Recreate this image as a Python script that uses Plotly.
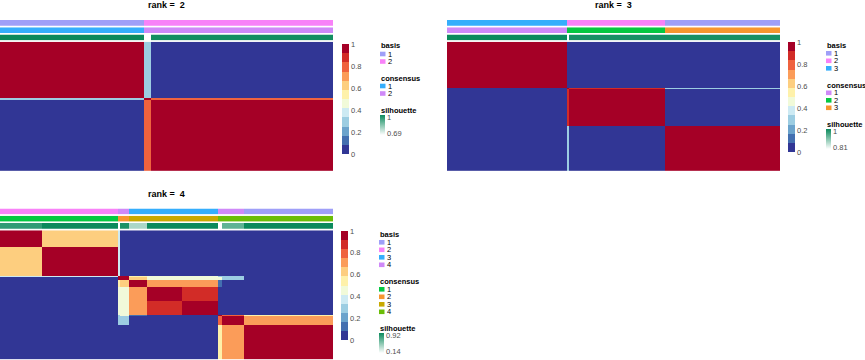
import numpy as np
import plotly.graph_objects as go

W, H = 865, 360

# ---------------- palettes ----------------
HEAT_COLORS = ["#313695", "#436fb0", "#6ba3cc", "#9ccde2", "#cdeaf3", "#f1fad9",
               "#fef1aa", "#fdce7f", "#fb9c59", "#ef623e", "#d22c27", "#a50026"]
SIL_LOW, SIL_HIGH = "#ffffff", "#0b8a5c"
BASIS_COLORS = ["#9f9ff8", "#f882f8", "#35aefc", "#cf89f8"]

# ---------------- data: rank 2 ----------------
r2_sizes = [65, 3, 82]
r2_basis = [1, 2, 2]
r2_cons = [1, 2, 2]
r2_sil = [1.0, 0.69, 0.99]
r2_block = [[1.00, 0.25, 0.00],
            [0.25, 1.00, 0.78],
            [0.00, 0.78, 1.00]]
r2_cons_colors = ["#35aefc", "#cf89f8"]
r2_sil_labels = ["1", "0.69"]

# ---------------- data: rank 3 ----------------
r3_sizes = [54, 1, 43, 52]
r3_basis = [3, 2, 2, 1]
r3_cons = [1, 2, 2, 3]
r3_sil = [1.0, 0.81, 0.99, 0.99]
r3_block = [[1.00, 0.00, 0.00, 0.00],
            [0.00, 1.00, 0.86, 0.28],
            [0.00, 0.86, 1.00, 0.00],
            [0.00, 0.28, 0.00, 1.00]]
r3_cons_colors = ["#cf89f8", "#05c841", "#f7962f"]
r3_sil_labels = ["1", "0.81"]

# ---------------- data: rank 4 ----------------
r4_sizes = [19, 34, 1, 4, 8, 16, 16, 2, 10, 40]
r4_basis = [2, 2, 4, 4, 3, 3, 3, 4, 4, 1]
r4_cons = [1, 1, 2, 2, 3, 3, 3, 4, 4, 4]
r4_sil = [0.80, 0.92, 0.14, 0.87, 0.41, 0.92, 0.92, 0.14, 0.65, 0.92]
r4_block = [
    # G1a  G1b   s1    G2    G3a   G3b1  G3b2  s8    G4a   G4b
    [1.00, 0.62, 0.35, 0.00, 0.00, 0.00, 0.00, 0.00, 0.00, 0.00],
    [0.62, 1.00, 0.35, 0.00, 0.00, 0.00, 0.00, 0.00, 0.00, 0.00],
    [0.35, 0.35, 1.00, 0.92, 0.55, 0.48, 0.48, 0.30, 0.30, 0.05],
    [0.00, 0.00, 0.92, 1.00, 0.62, 0.48, 0.45, 0.45, 0.30, 0.02],
    [0.00, 0.00, 0.55, 0.62, 1.00, 0.72, 0.72, 0.10, 0.00, 0.00],
    [0.00, 0.00, 0.48, 0.48, 0.72, 1.00, 0.86, 0.00, 0.00, 0.00],
    [0.00, 0.00, 0.48, 0.45, 0.72, 0.86, 1.00, 0.00, 0.00, 0.00],
    [0.00, 0.00, 0.30, 0.45, 0.10, 0.00, 0.00, 1.00, 0.80, 0.50],
    [0.00, 0.00, 0.30, 0.30, 0.00, 0.00, 0.00, 0.80, 1.00, 0.70],
    [0.00, 0.00, 0.05, 0.02, 0.00, 0.00, 0.00, 0.50, 0.70, 1.00],
]
r4_cons_colors = ["#05c841", "#f7962f", "#c9a900", "#6abd06"]
r4_sil_labels = ["0.92", "0.14"]

cb_ticks = [0, 0.2, 0.4, 0.6, 0.8, 1]
cb_ticktext = ["0", "0.2", "0.4", "0.6", "0.8", "1"]

FONT = "Liberation Sans, Arial, Helvetica, sans-serif"
LEG_FS = 7.5


def discrete_scale(colors):
    n = len(colors)
    sc = []
    for i, c in enumerate(colors):
        sc.append([i / n, c])
        sc.append([(i + 1) / n, c])
    return sc


def px_x(x):
    return x / W


def px_y(y):
    return 1 - y / H


layout = dict(width=W, height=H, margin=dict(l=0, r=0, t=0, b=0, autoexpand=False),
              paper_bgcolor="white", plot_bgcolor="white",
              font=dict(family=FONT, size=LEG_FS, color="#000"),
              showlegend=False)
shapes = []
annotations = []
traces = []
axis_count = [0]


def new_axes(x0, x1, y0, y1, n, nrows):
    axis_count[0] += 1
    i = axis_count[0]
    sfx = "" if i == 1 else str(i)
    layout["xaxis" + sfx] = dict(domain=[px_x(x0), px_x(x1)], range=[-0.5, n - 0.5],
                                 visible=False, fixedrange=True, anchor="y" + sfx)
    layout["yaxis" + sfx] = dict(domain=[px_y(y1), px_y(y0)], range=[nrows - 0.5, -0.5],
                                 visible=False, fixedrange=True, anchor="x" + sfx)
    return "x" + sfx, "y" + sfx


def text_ann(x, y, text, size=LEG_FS, anchor="left", color="#000"):
    annotations.append(dict(x=px_x(x), y=px_y(y), text=text, showarrow=False,
                            xref="paper", yref="paper", xanchor=anchor, yanchor="middle",
                            borderpad=0, font=dict(size=size, color=color)))


def key(x, y, color):
    shapes.append(dict(type="rect", xref="paper", yref="paper",
                       x0=px_x(x), x1=px_x(x + 5.5), y0=px_y(y + 2.3), y1=px_y(y - 2.3),
                       fillcolor=color, line=dict(width=0)))


def panel(title, sizes, basis, cons, sil, block, cons_colors, sil_labels,
          hx0, hx1, top, cb, leg):
    idx = np.repeat(np.arange(len(sizes)), sizes)
    n = len(idx)
    M = np.array(block)
    Z = M[np.ix_(idx, idx)]
    bas = np.array(basis)[idx]
    con = np.array(cons)[idx]
    sl = np.array(sil)[idx]
    yb = (top, top + 5.7)
    yc = (top + 7.3, top + 13.0)
    ys = (top + 14.5, top + 20.2)
    yh = (top + 21.8, top + 151.0)

    nb = len(BASIS_COLORS)
    xa, ya = new_axes(hx0, hx1, yb[0], yb[1], n, 1)
    traces.append(go.Heatmap(z=[bas.tolist()], xaxis=xa, yaxis=ya,
                             colorscale=discrete_scale(BASIS_COLORS), zmin=0.5, zmax=nb + 0.5,
                             showscale=False, hoverinfo="skip"))
    nc = len(cons_colors)
    xa, ya = new_axes(hx0, hx1, yc[0], yc[1], n, 1)
    traces.append(go.Heatmap(z=[con.tolist()], xaxis=xa, yaxis=ya,
                             colorscale=discrete_scale(cons_colors), zmin=0.5, zmax=nc + 0.5,
                             showscale=False, hoverinfo="skip"))

    smin, smax = float(min(sil)), float(max(sil))
    lx, ly = leg
    nkeys_b = max(basis)
    y = ly
    text_ann(lx - 0.5, y, "<b>basis</b>")
    y += 8.3
    for k in range(nkeys_b):
        key(lx, y, BASIS_COLORS[k])
        text_ann(lx + 6.5, y, str(k + 1))
        y += 7.5
    y += 9.5
    text_ann(lx - 0.5, y, "<b>consensus</b>")
    y += 7.5
    for k in range(nc):
        key(lx, y, cons_colors[k])
        text_ann(lx + 6.5, y, str(k + 1))
        y += 7.5
    y += 9.5
    text_ann(lx - 0.5, y - 0.5, "<b>silhouette</b>")
    gtop = y + 4.5
    inset = 0.12 * (smax - smin)
    xa, ya = new_axes(hx0, hx1, ys[0], ys[1], n, 1)
    traces.append(go.Heatmap(z=[sl.tolist()], xaxis=xa, yaxis=ya,
                             colorscale=[[0, SIL_LOW], [1, SIL_HIGH]], zmin=smin, zmax=smax,
                             showscale=True, hoverinfo="skip",
                             colorbar=dict(x=px_x(lx), xanchor="left", y=px_y(gtop), yanchor="top",
                                           len=20, lenmode="pixels", thickness=5,
                                           outlinewidth=0, xpad=0, ypad=0,
                                           tickvals=[smax - inset, smin + inset * 0.6],
                                           ticktext=sil_labels,
                                           ticks="", ticklabelposition="outside",
                                           tickfont=dict(size=LEG_FS, color="#4d4d4d"))))
    xa, ya = new_axes(hx0, hx1, yh[0], yh[1], n, n)
    cbx, cby0, cby1 = cb
    traces.append(go.Heatmap(z=Z.tolist(), xaxis=xa, yaxis=ya,
                             colorscale=discrete_scale(HEAT_COLORS), zmin=0, zmax=1,
                             hoverinfo="skip", showscale=True,
                             colorbar=dict(x=px_x(cbx), xanchor="left", y=px_y(cby0), yanchor="top",
                                           len=cby1 - cby0, lenmode="pixels", thickness=7,
                                           outlinewidth=0, xpad=0, ypad=0,
                                           tickvals=cb_ticks, ticktext=cb_ticktext, ticks="",
                                           tickfont=dict(size=LEG_FS, color="#4d4d4d"))))
    text_ann((hx0 + hx1) / 2, top - 15, title, size=9, anchor="center")


panel("<b>rank =\u00a0 2</b>", r2_sizes, r2_basis, r2_cons, r2_sil, r2_block, r2_cons_colors,
      r2_sil_labels, 0, 333, 20, (342, 44, 154), (380, 45.7))
panel("<b>rank =\u00a0 3</b>", r3_sizes, r3_basis, r3_cons, r3_sil, r3_block, r3_cons_colors,
      r3_sil_labels, 447, 780, 20, (788, 42, 152), (826, 45))
panel("<b>rank =\u00a0 4</b>", r4_sizes, r4_basis, r4_cons, r4_sil, r4_block, r4_cons_colors,
      r4_sil_labels, 0, 333, 208.5, (341, 231, 340), (379, 234))

layout["shapes"] = shapes
layout["annotations"] = annotations
fig = go.Figure(data=traces, layout=layout)
fig.write_html("out.html", config={"displayModeBar": False, "staticPlot": True},
               post_script="document.body.style.margin='0';document.body.style.overflow='hidden';")
